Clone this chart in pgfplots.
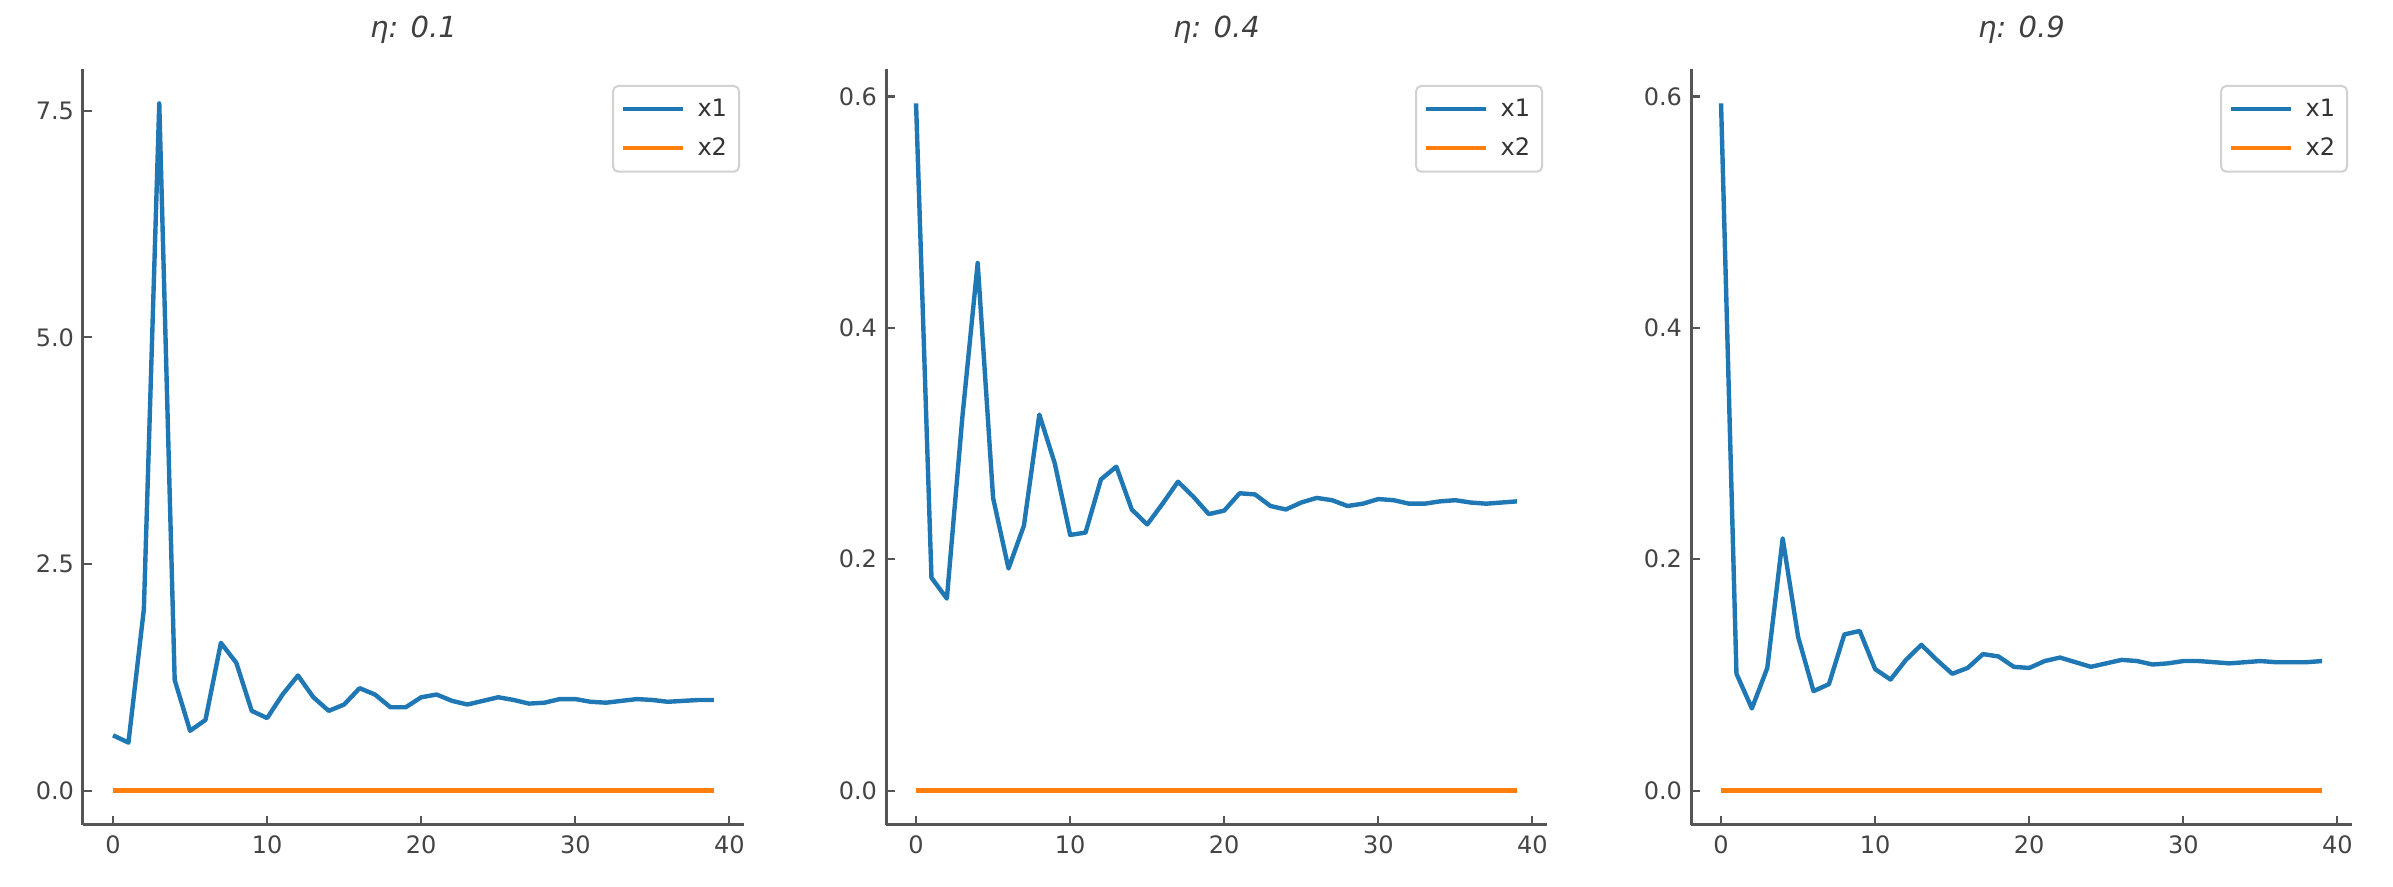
\documentclass[border=0pt]{standalone}
\usepackage{pgfplots}
\pgfplotsset{compat=1.18}
\usepackage{fontspec}
\setmainfont{DejaVu Sans}
\definecolor{mblue}{RGB}{31,119,180}
\definecolor{morange}{RGB}{255,127,14}
\definecolor{spine}{RGB}{85,85,85}
\definecolor{ticklab}{RGB}{68,68,68}

\pgfplotsset{
  panel/.style={
    width=330.5pt, height=378pt, scale only axis,
    xmin=-1.95, xmax=40.95,
    axis x line*=bottom, axis y line*=left,
    x axis line style={-}, y axis line style={-},
    axis line style={spine, line width=1.5pt},
    tick align=inside,
    major tick length=4.5pt,
    tick style={spine, line width=1.1pt},
    xtick={0,10,20,30,40},
    tick label style={font=\fontsize{12}{14}\selectfont, text=ticklab},
    /pgf/number format/assume math mode=true,
    xticklabel style={yshift=-2pt},
    yticklabel style={xshift=-1pt, /pgf/number format/fixed, /pgf/number format/fixed zerofill, /pgf/number format/precision=1},
    title style={at={(0.5,1)}, anchor=base, yshift=9.5pt, font=\fontsize{14.5}{17}\selectfont\itshape, text=black!75},
    legend style={at={(1,1)}, anchor=north east, xshift=-2pt, yshift=-8pt, draw=black!18, rounded corners=2.5pt, line width=1pt, font=\fontsize{12}{14}\selectfont, text=black!80, row sep=5.2pt, inner xsep=4pt, inner ysep=4.5pt},
    legend cell align=left,
    legend image code/.code={\draw[##1] (0pt,0pt) -- (30pt,0pt); \path (34pt,0pt);},
    every axis plot/.append style={line width=2.2pt, line join=round},
  }
}

\pgfplotstableread{
x y
0 0.61
1 0.53
2 2.00
3 7.58
4 1.22
5 0.66
6 0.78
7 1.63
8 1.41
9 0.88
10 0.80
11 1.06
12 1.27
13 1.03
14 0.88
15 0.95
16 1.13
17 1.06
18 0.92
19 0.92
20 1.03
21 1.06
22 0.99
23 0.95
24 0.99
25 1.03
26 1.00
27 0.96
28 0.97
29 1.01
30 1.01
31 0.98
32 0.97
33 0.99
34 1.01
35 1.00
36 0.98
37 0.99
38 1.00
39 1.00
}\dataA

\pgfplotstableread{
x y
0 0.594
1 0.184
2 0.166
3 0.322
4 0.456
5 0.253
6 0.192
7 0.229
8 0.325
9 0.283
10 0.221
11 0.223
12 0.269
13 0.280
14 0.243
15 0.230
16 0.248
17 0.267
18 0.254
19 0.239
20 0.242
21 0.257
22 0.256
23 0.246
24 0.243
25 0.249
26 0.253
27 0.251
28 0.246
29 0.248
30 0.252
31 0.251
32 0.248
33 0.248
34 0.250
35 0.251
36 0.249
37 0.248
38 0.249
39 0.250
}\dataB

\pgfplotstableread{
x y
0 0.594
1 0.101
2 0.071
3 0.106
4 0.218
5 0.133
6 0.086
7 0.092
8 0.135
9 0.138
10 0.105
11 0.096
12 0.113
13 0.126
14 0.113
15 0.101
16 0.106
17 0.118
18 0.116
19 0.107
20 0.106
21 0.112
22 0.115
23 0.111
24 0.107
25 0.110
26 0.113
27 0.112
28 0.109
29 0.110
30 0.112
31 0.112
32 0.111
33 0.110
34 0.111
35 0.112
36 0.111
37 0.111
38 0.111
39 0.112
}\dataC

\pgfplotstableread{
x y
0 0
39 0
}\zeros

\begin{document}
\begin{tikzpicture}
\path[use as bounding box] (-41.5pt,-31pt) rectangle (1155pt,412.5pt);
\begin{axis}[panel, at={(0pt,0pt)}, anchor=south west,
  ymin=-0.379, ymax=7.96, ytick={0,2.5,5,7.5},
  title={η: 0.1}]
\addplot[mblue] table[x=x,y=y] {\dataA};
\addplot[morange] table[x=x,y=y] {\zeros};
\legend{x1,x2}
\end{axis}
\begin{axis}[panel, at={(401.5pt,0pt)}, anchor=south west,
  ymin=-0.0297, ymax=0.6237, ytick={0,0.2,0.4,0.6},
  title={η: 0.4}]
\addplot[mblue] table[x=x,y=y] {\dataB};
\addplot[morange] table[x=x,y=y] {\zeros};
\legend{x1,x2}
\end{axis}
\begin{axis}[panel, at={(804pt,0pt)}, anchor=south west,
  ymin=-0.0297, ymax=0.6237, ytick={0,0.2,0.4,0.6},
  title={η: 0.9}]
\addplot[mblue] table[x=x,y=y] {\dataC};
\addplot[morange] table[x=x,y=y] {\zeros};
\legend{x1,x2}
\end{axis}
\end{tikzpicture}
\end{document}
